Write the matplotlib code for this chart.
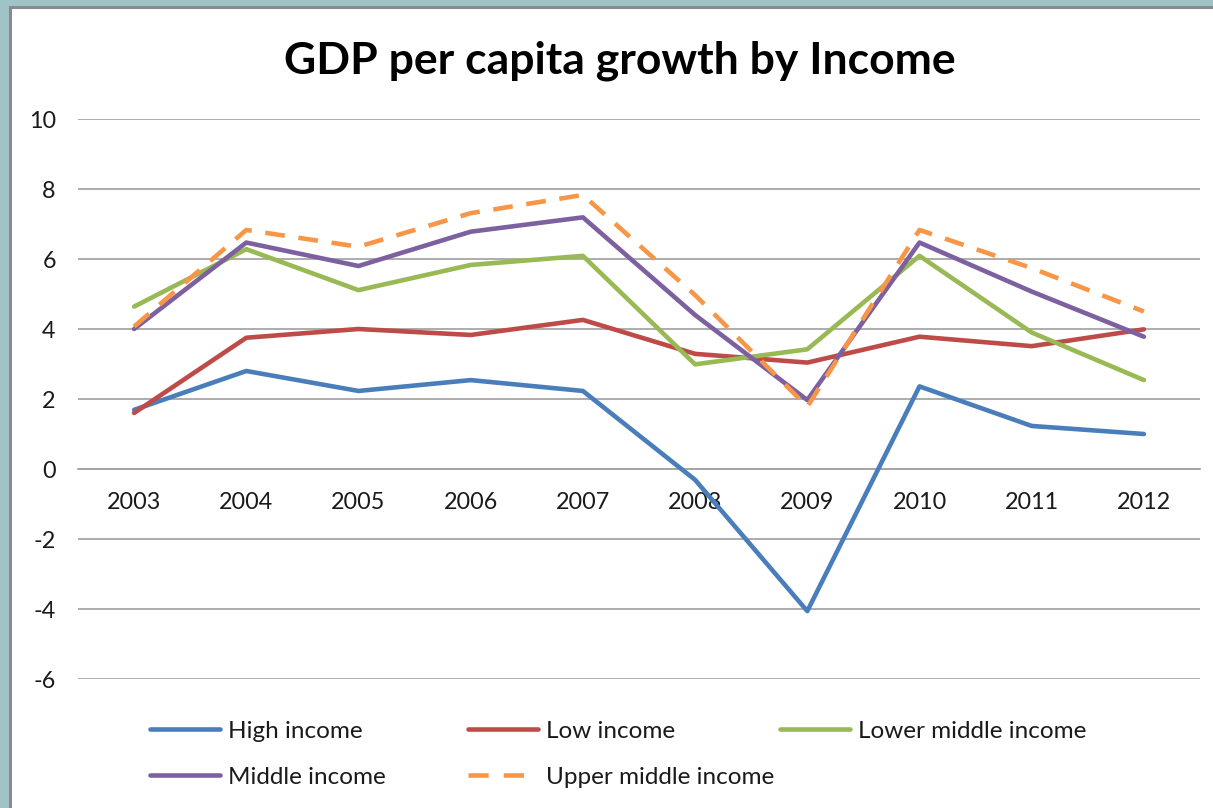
import matplotlib
matplotlib.use("Agg")
import matplotlib.pyplot as plt
from matplotlib.patches import Rectangle
from matplotlib.lines import Line2D

years = ["2003", "2004", "2005", "2006", "2007", "2008", "2009", "2010", "2011", "2012"]

high_income = [1.69, 2.80, 2.23, 2.54, 2.23, -0.31, -4.06, 2.36, 1.23, 1.00]
low_income = [1.60, 3.75, 4.00, 3.83, 4.26, 3.29, 3.04, 3.78, 3.51, 3.99]
lower_middle_income = [4.64, 6.28, 5.11, 5.83, 6.09, 2.99, 3.42, 6.09, 3.90, 2.54]
middle_income = [4.00, 6.47, 5.80, 6.78, 7.19, 4.40, 1.97, 6.47, 5.07, 3.78]
upper_middle_income = [4.07, 6.83, 6.35, 7.31, 7.83, 4.97, 1.78, 6.83, 5.74, 4.50]

series_names = ["High income", "Low income", "Lower middle income",
                "Middle income", "Upper middle income"]
series_values = [high_income, low_income, lower_middle_income,
                 middle_income, upper_middle_income]
colors = ["#4A7EBB", "#BE4B48", "#98B954", "#7D60A0", "#F79646"]

W, H = 1213, 808
FONT = "Lato"
plt.rcParams["font.family"] = [FONT, "DejaVu Sans"]

fig = plt.figure(figsize=(W / 100, H / 100), dpi=100)
fig.patch.set_facecolor("#A0C3C8")

# white chart panel with grey edge
panel = Rectangle((10 / W, -0.01), 1.02, 1 - 7 / H + 0.01,
                  transform=fig.transFigure, facecolor="white",
                  edgecolor="#8A8A8A", linewidth=2.2, zorder=-5)
fig.patches.append(panel)

left, right = 78 / W, 1200 / W
bottom, top = 1 - 679 / H, 1 - 119 / H
ax = fig.add_axes([left, bottom, right - left, top - bottom])
ax.set_facecolor("none")
ax.set_zorder(2)

DASH = (0, (4.3, 3.0))
LEG_DASH = (0, (4.4, 3.3))
x = list(range(len(years)))
for i, (name, vals, c) in enumerate(zip(series_names, series_values, colors)):
    if name == "Upper middle income":
        ax.plot(x, vals, color=c, lw=3.3, ls=DASH,
                dash_capstyle="butt", dash_joinstyle="round", zorder=3 + i)
    else:
        ax.plot(x, vals, color=c, lw=3.3, solid_capstyle="round",
                solid_joinstyle="round", zorder=3 + i)

ax.set_xlim(-0.5, len(years) - 0.5)
ax.set_ylim(-6, 10)
ax.set_yticks(range(-6, 11, 2))
ax.set_yticklabels([str(v) for v in range(-6, 11, 2)])
ax.grid(axis="y", color="#A6A6A6", lw=1.3)
ax.set_axisbelow(True)

for s in ["left", "right", "top"]:
    ax.spines[s].set_visible(False)
ax.spines["bottom"].set_position(("data", 0))
ax.spines["bottom"].set_color("#A6A6A6")
ax.spines["bottom"].set_linewidth(1.3)

ax.set_xticks(x)
ax.set_xticklabels(years)
ax.tick_params(axis="x", length=0, pad=16.5, labelsize=16.8, labelcolor="#1a1a1a")
ax.tick_params(axis="y", length=0, pad=16, labelsize=16.8, labelcolor="#1a1a1a")

fig.text(620 / W, 1 - 61 / H, "GDP per capita growth by Income",
         ha="center", va="center", fontsize=32, fontweight="bold",
         color="black")

# legend entries laid out on a fixed grid
legend_pos = [(150, 731), (468, 731), (780, 731), (150, 777), (468, 777)]
fs = 17.5
for (name, c, (px, py)) in zip(series_names, colors, legend_pos):
    if name == "Upper middle income":
        h = Line2D([], [], color=c, lw=3.3, ls=LEG_DASH, dash_capstyle="butt")
    else:
        h = Line2D([], [], color=c, lw=3.3, solid_capstyle="round")
    fig.legend([h], [name], loc="center left",
               bbox_to_anchor=(px / W, 1 - py / H), frameon=False,
               fontsize=fs, handlelength=70 / (fs * 100 / 72),
               handletextpad=8 / (fs * 100 / 72),
               borderpad=0, borderaxespad=0, labelcolor="#1a1a1a")

fig.savefig("out.png", dpi=100, facecolor=fig.get_facecolor())
